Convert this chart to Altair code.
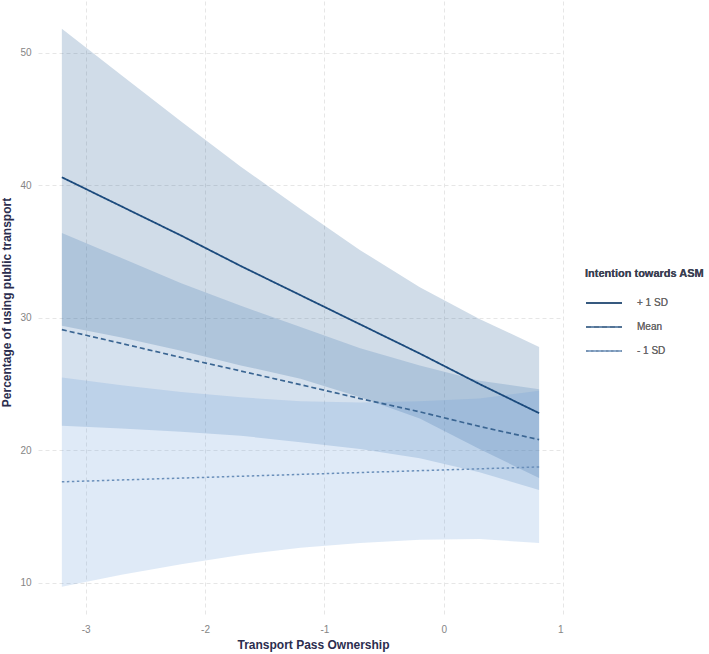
import altair as alt
import pandas as pd

# Predicted share of public transport use across transport pass ownership,
# for three levels of intention towards ASM (with confidence bands).
x_vals = [-3.2, -2.7, -2.2, -1.7, -1.2, -0.7, -0.2, 0.3, 0.8]
groups = ["+ 1 SD", "Mean", "- 1 SD"]

high_fit = [40.6, 38.4, 36.2, 33.9, 31.7, 29.5, 27.3, 25.0, 22.8]
high_upper = [51.8, 48.3, 44.8, 41.4, 38.2, 35.1, 32.3, 29.9, 27.8]
high_lower = [29.4, 28.5, 27.5, 26.4, 25.4, 24.0, 22.4, 20.1, 17.9]

mean_fit = [29.1, 28.06, 27.0, 25.98, 24.95, 23.9, 22.9, 21.8, 20.8]
mean_upper = [36.4, 34.5, 32.6, 30.9, 29.3, 27.7, 26.4, 25.25, 24.6]
mean_lower = [21.85, 21.65, 21.4, 21.1, 20.6, 20.1, 19.4, 18.35, 17.0]

low_fit = [17.62, 17.76, 17.9, 18.04, 18.18, 18.32, 18.46, 18.6, 18.74]
low_upper = [25.5, 24.9, 24.4, 24.0, 23.7, 23.6, 23.7, 23.9, 24.5]
low_lower = [9.7, 10.6, 11.4, 12.1, 12.65, 13.0, 13.25, 13.3, 13.0]

x_ticks = [-3, -2, -1, 0, 1]
y_ticks = [10, 20, 30, 40, 50]

series = {
    "+ 1 SD": (high_fit, high_lower, high_upper),
    "Mean": (mean_fit, mean_lower, mean_upper),
    "- 1 SD": (low_fit, low_lower, low_upper),
}
rows = []
for g in groups:
    fit, lo, hi = series[g]
    for xv, f, l, h in zip(x_vals, fit, lo, hi):
        rows.append({"x": xv, "group": g, "band": g, "fit": f, "lower": l, "upper": h})
df = pd.DataFrame(rows)

FONT = "Liberation Sans"
LEGEND_TITLE = "Intention towards ASM"

x_enc = alt.X(
    "x:Q",
    scale=alt.Scale(domain=[-3.4, 1.0], nice=False, zero=False),
    axis=alt.Axis(
        values=x_ticks, title="Transport Pass Ownership",
        labelExpr="'' + datum.value", titleX=275,
    ),
)
y_scale = alt.Scale(domain=[7.57, 53.9], nice=False, zero=False)

# confidence bands, one per intention level
bands = alt.Chart(df).mark_area(opacity=0.2).encode(
    x=x_enc,
    y=alt.Y(
        "lower:Q", scale=y_scale,
        axis=alt.Axis(values=y_ticks, title="Percentage of using public transport",
                      titleY=301),
    ),
    y2="upper:Q",
    fill=alt.Fill(
        "band:N",
        scale=alt.Scale(domain=groups, range=["#15508d", "#2f6aa8", "#5f97d6"]),
        legend=None,
    ),
)

leg = alt.Legend(title=LEGEND_TITLE, symbolType="stroke")

# predicted lines
lines = alt.Chart(df).mark_line().encode(
    x=x_enc,
    y=alt.Y("fit:Q", scale=y_scale),
    stroke=alt.Stroke(
        "group:N",
        scale=alt.Scale(domain=groups, range=["#1b4a7c", "#3a6592", "#6a8fba"]),
        legend=leg,
    ),
    strokeDash=alt.StrokeDash(
        "group:N",
        scale=alt.Scale(domain=groups, range=[[1, 0], [5, 3], [2.5, 2.5]]),
        legend=leg,
    ),
    strokeWidth=alt.StrokeWidth(
        "group:N",
        scale=alt.Scale(domain=groups, range=[1.8, 1.5, 1.4]),
        legend=leg,
    ),
)

chart = (
    alt.layer(bands, lines)
    .resolve_scale(fill="independent", stroke="independent")
    .properties(
        width=525,
        height=614,
        autosize=alt.AutoSizeParams(type="none"),
        padding={"left": 38, "top": 1, "right": 146, "bottom": 39},
        background="white",
    )
    .configure_view(stroke=None)
    .configure_axis(
        domain=False,
        ticks=False,
        tickSize=0,
        grid=True,
        gridColor="#e6e6e6",
        gridDash=[4, 3],
        gridWidth=1,
        labelFont=FONT,
        labelFontSize=10,
        labelColor="#858585",
        titleFont=FONT,
        titleFontSize=12,
        titleFontWeight="bold",
        titleColor="#2b2d4e",
    )
    .configure_axisX(labelPadding=9, titlePadding=5)
    .configure_axisY(labelPadding=7, titlePadding=6)
    .configure_legend(
        orient="none",
        legendX=547,
        legendY=267,
        symbolSize=1296,
        symbolStrokeWidth=1.6,
        titleFont=FONT,
        titleFontSize=11,
        titleFontWeight="bold",
        titleColor="#3a3f52",
        titlePadding=5,
        labelFont=FONT,
        labelFontSize=10,
        labelColor="#666666",
        labelOffset=14,
        rowPadding=-8,
    )
)

chart.save("out.html", embed_options={"renderer": "svg", "actions": False})
